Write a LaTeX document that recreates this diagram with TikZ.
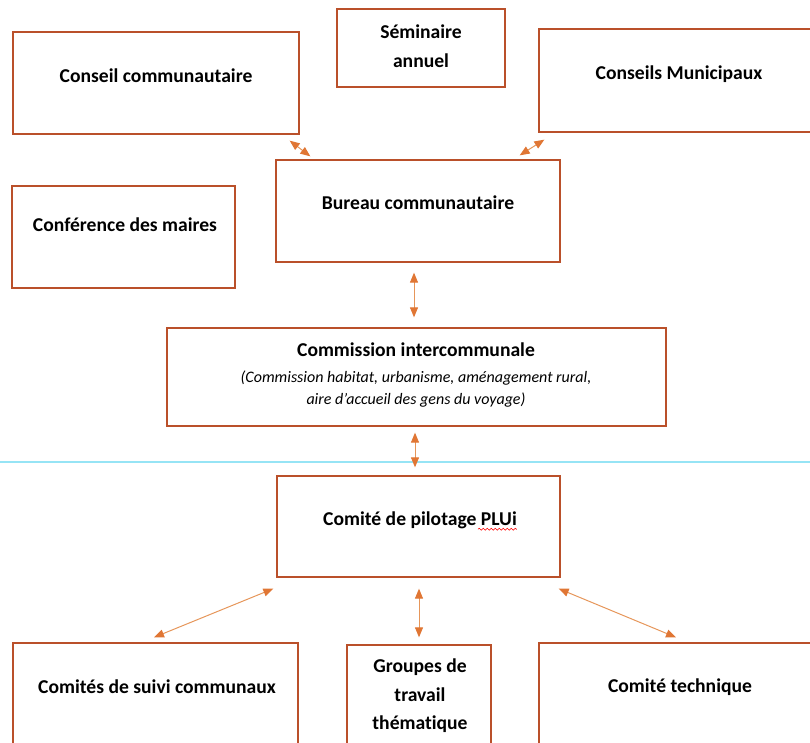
\documentclass[tikz,border=0pt]{standalone}
\usepackage{fontspec}
\setmainfont{Carlito}[Ligatures=NoCommon]
\usetikzlibrary{positioning, arrows.meta, calc, decorations.pathmorphing}
\definecolor{frame}{RGB}{186,80,42}
\definecolor{tip}{RGB}{224,118,52}
\definecolor{shaft}{RGB}{230,150,90}
\definecolor{pagecut}{RGB}{150,228,245}

\begin{document}
\begin{tikzpicture}[
    x=1pt, y=-1pt,
    box/.style={draw=frame, line width=1.3pt, inner sep=0pt},
    title/.style={font=\fontsize{19.6}{28.5}\selectfont\bfseries, align=center, inner sep=0pt},
    note/.style={font=\fontsize{16}{22}\selectfont\itshape, align=center, inner sep=0pt},
    link/.style={{Triangle[length=10pt,width=8pt,color=tip]}-{Triangle[length=10pt,width=8pt,color=tip]},
                 draw=shaft, line width=1pt},
]
\useasboundingbox (0,0) rectangle (810,742);

% page break of the scan
\draw[pagecut, line width=1.2pt] (0,462) -- (810,462);

% upper level
\node[box, minimum width=286, minimum height=102] (cc) at (156,83) {};
\node[title] (cc-t) at (156,76) {Conseil communautaire};
\node[box, minimum width=168, minimum height=78] (sem) at (421,48) {};
\node[title] (sem-t) at (421,46) {Séminaire\\annuel};
\node[box, minimum width=291, minimum height=103] (mun) at (684.5,80.5) {};
\node[title] (mun-t) at (679,74) {Conseils Municipaux};

% bureau and conference
\node[box, minimum width=284, minimum height=102] (bur) at (418,211) {};
\node[title] (bur-t) at (418,203) {Bureau communautaire};
\node[box, minimum width=223, minimum height=102] (conf) at (123.5,237) {};
\node[title] (conf-t) at (125,225) {Conférence des maires};

% commission
\node[box, minimum width=499, minimum height=98] (com) at (416.5,377) {};
\node[title] (com-t) at (416,350) {Commission intercommunale};
\node[note] (com-n) at (416,389) {(Commission habitat, urbanisme, aménagement rural,\\aire d’accueil des gens du voyage)};

% steering committee
\node[box, minimum width=283, minimum height=101] (copil) at (418.5,526.5) {};
\node[title] (copil-t) at (420,520) {Comité de pilotage PLUi};
\draw[red, line width=0.6pt, decorate, decoration={snake, amplitude=0.9pt, segment length=4pt}]
    ($(copil-t.base east)+(-39,4)$) -- ($(copil-t.base east)+(0,4)$);

% lower level
\node[box, minimum width=285, minimum height=117] (suivi) at (155.5,701.5) {};
\node[title] (suivi-t) at (157,687) {Comités de suivi communaux};
\node[box, minimum width=144, minimum height=115] (grp) at (419,702.5) {};
\node[title] (grp-t) at (420,696) {Groupes de\\travail\\thématique};
\node[box, minimum width=291, minimum height=117] (tech) at (684.5,701.5) {};
\node[title] (tech-t) at (680,687) {Comité technique};

% links
\draw[link] ($(cc.south east)+(-10,6)$) -- ($(bur.north west)+(35,-3)$);
\draw[link] ($(mun.south west)+(6,7)$) -- ($(bur.north east)+(-41,-4)$);
\draw[link] ($(bur.south)+(-4,10)$) -- ($(com.north)+(-2.5,-10)$);
\draw[link] ($(com.south)+(-1.5,6)$) -- ($(copil.north)+(-3.5,-8)$);
\draw[link] ($(copil.south west)+(-3,11)$) -- ($(suivi.north)+(-1.5,-5)$);
\draw[link] ($(copil.south)+(0.5,11)$) -- ($(grp.north)+(0,-7)$);
\draw[link] ($(copil.south east)+(-2,11)$) -- ($(tech.north)+(-8.5,-5)$);

\end{tikzpicture}
\end{document}
